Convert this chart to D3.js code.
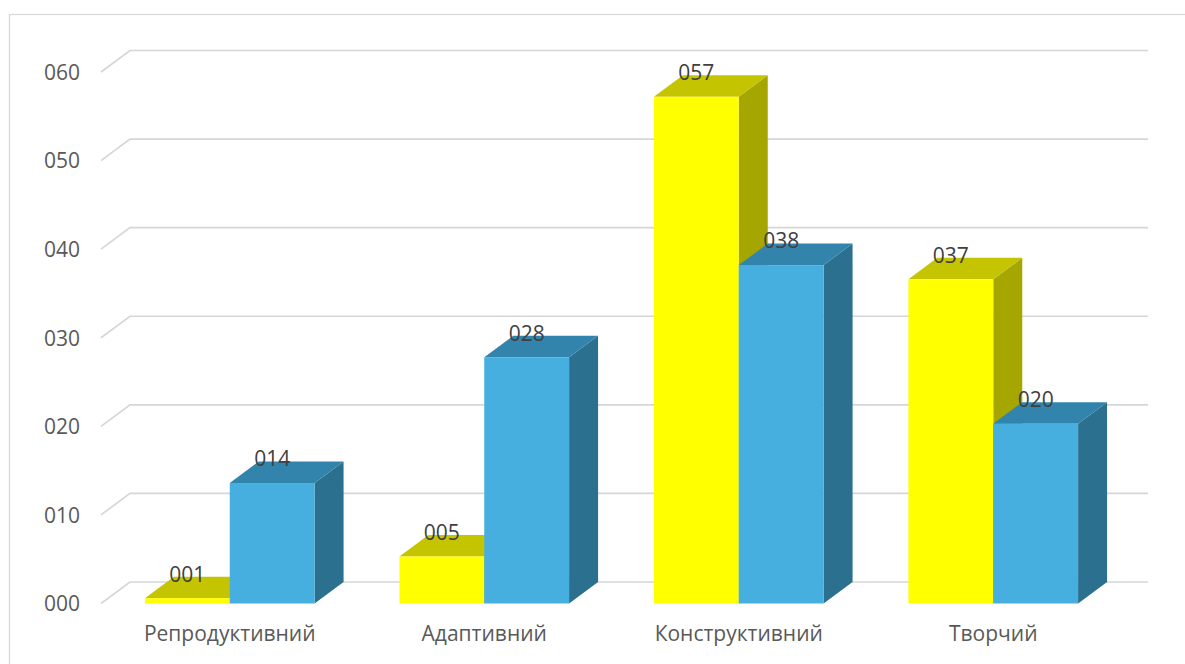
<!DOCTYPE html>
<html>
<head>
<meta charset="utf-8">
<script src="https://cdn.jsdelivr.net/npm/d3@7"></script>
<style>
  html, body { margin: 0; padding: 0; background: #fff; }
  svg { display: block; }
  text { font-family: "Open Sans", "Noto Sans", sans-serif; }
</style>
</head>
<body>
<svg id="chart" width="1185" height="664"></svg>
<script>
const categories = ["Репродуктивний", "Адаптивний", "Конструктивний", "Творчий"];
const seriesNames = ["s1", "s2"];
const series1 = [0.6, 5.3, 57.2, 36.6];
const series2 = [13.6, 27.8, 38.2, 20.3];
const yTicks = [0, 10, 20, 30, 40, 50, 60];

const W = 1185, H = 664;
const svg = d3.select("#chart");
const fmt = d3.format("03.0f");

// 3D depth offset
const DX = 29, DY = -21.5;

const x0 = d3.scaleBand().domain(categories).range([102.5, 1120.5]).paddingInner(0).paddingOuter(0);
const x1 = d3.scaleBand().domain(seriesNames).range([0, x0.bandwidth()]).paddingInner(0).paddingOuter(0.5);
const y = d3.scaleLinear().domain([0, 60]).range([603.5, 72]);

const colors = {
  s1: { front: "#FFFF00", top: "#C4C400", side: "#A6A600" },
  s2: { front: "#46AFE0", top: "#3284AC", side: "#2B708F" }
};

// chart border
svg.append("rect").attr("x", 9.5).attr("y", 14.5).attr("width", W + 20).attr("height", H + 20)
  .attr("fill", "none").attr("stroke", "#d9d9d9").attr("stroke-width", 1.3);

// gridlines (floor edge diagonal + back wall horizontal)
const xL = 101, xR = 1119;
const grid = svg.append("g");
yTicks.forEach(t => {
  const yf = y(t);
  grid.append("path")
    .attr("d", `M${xL},${yf} L${xL + DX},${yf + DY} L${xR + DX},${yf + DY}`)
    .attr("fill", "none").attr("stroke", "#d6d6d6").attr("stroke-width", 1.7);
});

// y axis labels
const axis = d3.axisLeft(y).tickValues(yTicks).tickFormat(fmt).tickSize(0).tickPadding(0);
const ag = svg.append("g").attr("transform", "translate(80,0)").call(axis);
ag.select(".domain").remove();
ag.selectAll("text").attr("font-size", 21).attr("fill", "#595959")
  .attr("font-family", "'Open Sans', sans-serif").attr("x", 0).attr("dy", "0.35em");

// bars
const data = categories.map((c, i) => ({ cat: c, vals: [
  { key: "s1", v: series1[i] }, { key: "s2", v: series2[i] }
]}));

const bars = svg.append("g");
data.forEach(d => {
  d.vals.forEach(s => {
    const xa = x0(d.cat) + x1(s.key);
    const xb = xa + x1.bandwidth();
    const yt = y(s.v), yb = y(0);
    const c = colors[s.key];
    const g = bars.append("g");
    g.append("path").attr("d",
      `M${xb},${yt} L${xb + DX},${yt + DY} L${xb + DX},${yb + DY} L${xb},${yb} Z`)
      .attr("fill", c.side);
    g.append("path").attr("d",
      `M${xa},${yt} L${xa + DX},${yt + DY} L${xb + DX},${yt + DY} L${xb},${yt} Z`)
      .attr("fill", c.top);
    g.append("rect").attr("x", xa).attr("y", yt).attr("width", xb - xa).attr("height", yb - yt)
      .attr("fill", c.front);
  });
});

// data labels
const labels = svg.append("g");
data.forEach(d => {
  d.vals.forEach(s => {
    const xa = x0(d.cat) + x1(s.key);
    labels.append("text")
      .attr("x", xa + x1.bandwidth() / 2)
      .attr("y", y(s.v) - 24)
      .attr("dy", "0.35em")
      .attr("text-anchor", "middle")
      .attr("font-size", 21)
      .attr("fill", "#404040")
      .text(fmt(s.v));
  });
});

// category labels
const cg = svg.append("g");
categories.forEach(c => {
  cg.append("text")
    .attr("x", x0(c) + x0.bandwidth() / 2)
    .attr("y", 634)
    .attr("dy", "0.35em")
    .attr("text-anchor", "middle")
    .attr("font-size", 21)
    .attr("fill", "#595959")
    .text(c);
});
</script>
</body>
</html>
